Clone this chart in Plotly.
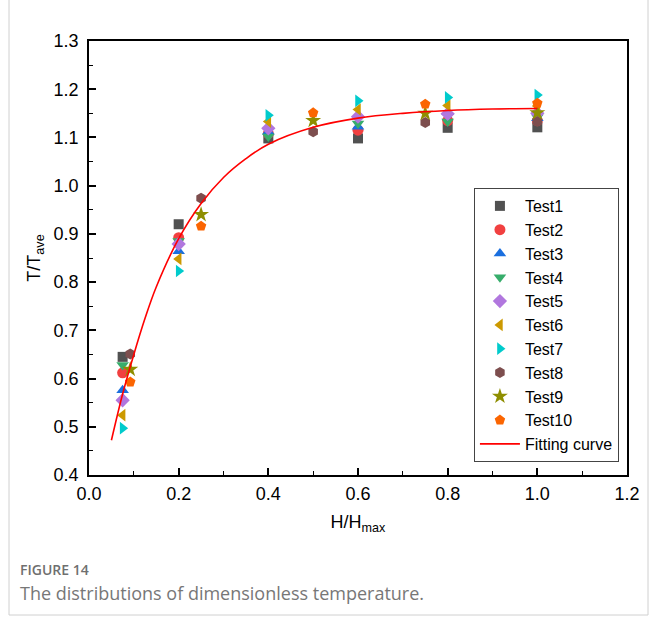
import plotly.graph_objects as go

# Measurement heights (H/Hmax) for the two sensor groups
h_main = [0.075, 0.2, 0.4, 0.6, 0.8, 1.0]
h_alt = [0.092, 0.25, 0.5, 0.75, 1.0]

# Dimensionless temperature T/Tave per test
test1 = [0.645, 0.920, 1.098, 1.098, 1.120, 1.121]
test2 = [0.612, 0.892, 1.108, 1.115, 1.135, 1.135]
test3 = [0.576, 0.864, 1.112, 1.122, 1.152, 1.140]
test4 = [0.628, 0.885, 1.102, 1.129, 1.133, 1.142]
test5 = [0.555, 0.879, 1.119, 1.143, 1.149, 1.150]
test6 = [0.524, 0.848, 1.133, 1.158, 1.166, 1.165]
test7 = [0.497, 0.823, 1.146, 1.176, 1.183, 1.188]
test8 = [0.651, 0.974, 1.112, 1.131, 1.133]
test9 = [0.619, 0.940, 1.135, 1.150, 1.151]
test10 = [0.593, 0.916, 1.151, 1.169, 1.171]

# Fitted curve samples
fit_x = [0.05, 0.075, 0.1, 0.125, 0.15, 0.2, 0.25, 0.3, 0.35, 0.4,
         0.5, 0.6, 0.7, 0.8, 0.9, 1.0]
fit_y = [0.472, 0.568, 0.650, 0.725, 0.790, 0.890, 0.963, 1.017, 1.056, 1.086,
         1.121, 1.140, 1.150, 1.156, 1.159, 1.160]

x_ticks = [0.0, 0.2, 0.4, 0.6, 0.8, 1.0, 1.2]
y_ticks = [0.4, 0.5, 0.6, 0.7, 0.8, 0.9, 1.0, 1.1, 1.2, 1.3]

series = [
    ("Test1", h_main, test1, "square", "#515151", 10),
    ("Test2", h_main, test2, "circle", "#F14040", 11),
    ("Test3", h_main, test3, "triangle-up", "#1A6FDF", 11),
    ("Test4", h_main, test4, "triangle-down", "#37AD6B", 11),
    ("Test5", h_main, test5, "diamond", "#B177DE", 11),
    ("Test6", h_main, test6, "triangle-left", "#CC9900", 11),
    ("Test7", h_main, test7, "triangle-right", "#00CBCC", 11),
    ("Test8", h_alt, test8, "hexagon", "#7D4E4E", 11),
    ("Test9", h_alt, test9, "star", "#8E8E00", 12),
    ("Test10", h_alt, test10, "pentagon", "#FB6501", 11),
]

fig = go.Figure()
for name, xs, ys, sym, col, sz in series:
    fig.add_trace(go.Scatter(
        x=xs, y=ys, mode="markers", name=name,
        marker=dict(symbol=sym, color=col, size=sz, line=dict(width=0)),
    ))

fig.add_trace(go.Scatter(
    x=fit_x, y=fit_y, mode="lines", name="Fitting curve",
    line=dict(color="#FF0000", width=1.6, shape="spline"),
))

sans = "Liberation Sans, Arial, sans-serif"
axis_font = dict(family=sans, size=18, color="#000")

fig.update_layout(
    width=657, height=626,
    margin=dict(l=89, r=30, t=41, b=151),
    paper_bgcolor="white", plot_bgcolor="white",
    font=axis_font,
    showlegend=True,
    legend=dict(
        x=0.985, y=0.03, xanchor="right", yanchor="bottom",
        bgcolor="white", bordercolor="#444", borderwidth=1,
        font=dict(family=sans, size=16, color="#000"),
        itemwidth=40, tracegroupgap=0,
    ),
    xaxis=dict(
        range=[0, 1.2], tickvals=x_ticks, ticktext=[f"{v:.1f}" for v in x_ticks],
        showgrid=False, zeroline=False, showline=True, linecolor="#000", linewidth=1.5,
        mirror=True, ticks="inside", ticklen=7, tickwidth=1.5, tickcolor="#000",
        minor=dict(dtick=0.1, ticks="inside", ticklen=4, tickwidth=1.2, tickcolor="#000"),
        title=dict(text="H/H<sub>max</sub>", font=axis_font, standoff=12),
        tickfont=axis_font, ticklabelstandoff=2,
    ),
    yaxis=dict(
        range=[0.4, 1.3], tickvals=y_ticks, ticktext=[f"{v:.1f}" for v in y_ticks],
        showgrid=False, zeroline=False, showline=True, linecolor="#000", linewidth=1.5,
        mirror=True, ticks="inside", ticklen=7, tickwidth=1.5, tickcolor="#000",
        minor=dict(dtick=0.05, ticks="inside", ticklen=4, tickwidth=1.2, tickcolor="#000"),
        title=dict(text="T/T<sub>ave</sub>", font=axis_font, standoff=8),
        tickfont=axis_font, ticklabelstandoff=5,
    ),
)

# Caption below the chart
fig.add_annotation(
    xref="paper", yref="paper", x=-0.132, y=-0.218, xanchor="left", yanchor="middle",
    text="FIGURE 14", showarrow=False,
    font=dict(family="Open Sans, sans-serif", size=14, color="#6f6f6f", weight=600),
)
fig.add_annotation(
    xref="paper", yref="paper", x=-0.132, y=-0.273, xanchor="left", yanchor="middle",
    text="The distributions of dimensionless temperature.", showarrow=False,
    font=dict(family="Open Sans, sans-serif", size=18, color="#777"),
)

# Thin frame around the figure panel
for x0, y0, x1, y1 in [(9, 0, 9, 615), (648, 0, 648, 615), (9, 615, 648, 615)]:
    fig.add_shape(
        type="line", xref="paper", yref="paper",
        x0=(x0 - 89) / 538, x1=(x1 - 89) / 538,
        y0=(475 - y0) / 434, y1=(475 - y1) / 434,
        line=dict(color="#d0d0d0", width=1),
    )

fig.write_html("out.html")
